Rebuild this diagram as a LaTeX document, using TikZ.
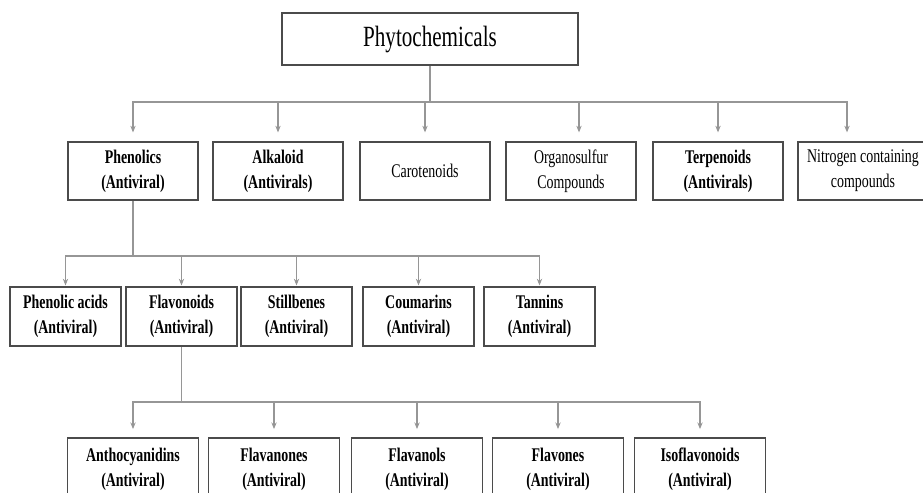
\documentclass[tikz,border=0pt]{standalone}
\usepackage{fontspec}
\setmainfont{Liberation Serif}[FakeStretch=0.72]
\usepackage{tikz}
\usetikzlibrary{positioning, arrows.meta}
\definecolor{boxgray}{RGB}{75,75,75}
\definecolor{linegray}{RGB}{150,150,150}
\newcommand{\boxfont}{\fontsize{14.5}{18.75}\selectfont}

\tikzset{
  chembox/.style={draw=boxgray, line width=1.4pt, inner sep=0pt, align=center, text=black},
  topbox/.style={chembox, minimum width=222pt, minimum height=39pt, font=\fontsize{22}{26}\selectfont},
  tierone/.style={chembox, minimum width=97.5pt, minimum height=43.5pt, font=\boxfont\bfseries},
  tiertwo/.style={chembox, minimum width=83.25pt, minimum height=44.25pt, font=\boxfont\bfseries},
  tierthree/.style={chembox, minimum width=98.25pt, minimum height=46.5pt, font=\boxfont\bfseries},
  plaintext/.style={font=\boxfont},
  trunk/.style={draw=linegray, line width=0.9pt},
  branch/.style={trunk, -{Stealth[length=5pt,width=4pt,fill=black!70]}},
}

\begin{document}
\begin{tikzpicture}[x=0.75pt, y=-0.75pt]
  \useasboundingbox (0,0) rectangle (923,492);
  \clip (0,0) rectangle (923,492);

  % root
  \node[topbox] (phyto) at (430,39) {Phytochemicals};

  % first tier
  \node[tierone] (phen) at (133,171) {Phenolics\\(Antiviral)};
  \node[tierone] (alka) at (278,171) {Alkaloid\\(Antivirals)};
  \node[tierone, plaintext] (caro) at (425,171) {Carotenoids};
  \node[tierone, plaintext] (orgs) at (571,171) {Organosulfur\\Compounds};
  \node[tierone] (terp) at (718,171) {Terpenoids\\(Antivirals)};
  \node[tierone, plaintext] (nitr) at (863,171) {Nitrogen containing\\compounds};

  % phenolics
  \node[tiertwo] (phac) at (65.5,316.5) {Phenolic acids\\(Antiviral)};
  \node[tiertwo] (flav) at (181.5,316.5) {Flavonoids\\(Antiviral)};
  \node[tiertwo] (stil) at (296.5,316.5) {Stillbenes\\(Antiviral)};
  \node[tiertwo] (coum) at (418.5,316.5) {Coumarins\\(Antiviral)};
  \node[tiertwo] (tann) at (539.5,316.5) {Tannins\\(Antiviral)};

  % flavonoids
  \node[tierthree] (anth) at (133,469) {Anthocyanidins\\(Antiviral)};
  \node[tierthree] (fnon) at (274,469) {Flavanones\\(Antiviral)};
  \node[tierthree] (fnol) at (417,469) {Flavanols\\(Antiviral)};
  \node[tierthree] (fone) at (558,469) {Flavones\\(Antiviral)};
  \node[tierthree] (isof) at (700,469) {Isoflavonoids\\(Antiviral)};

  % connectors
  \coordinate (busone) at (430,102);
  \coordinate (bustwo) at (133,256);
  \coordinate (busthree) at (181.5,402);
  \draw[trunk] (phyto.south) -- (busone);
  \foreach \n in {phen,alka,caro,terp}
    \draw[branch, shorten >=6.5pt] (busone) -| (\n.north);
  \draw[branch, shorten >=6.5pt] (busone) -| ([xshift=6]orgs.north);
  \draw[branch, shorten >=6.5pt] (busone) -| ([xshift=-12]nitr.north);

  \draw[trunk] (phen.south) -- (bustwo);
  \foreach \n in {phac,flav,stil,coum,tann}
    \draw[branch, shorten >=0.5pt] (bustwo) -| (\n.north);

  \draw[trunk] (flav.south) -- (busthree);
  \foreach \n in {anth,fnon,fnol,fone,isof}
    \draw[branch, shorten >=6pt] (busthree) -| (\n.north);
\end{tikzpicture}
\end{document}
